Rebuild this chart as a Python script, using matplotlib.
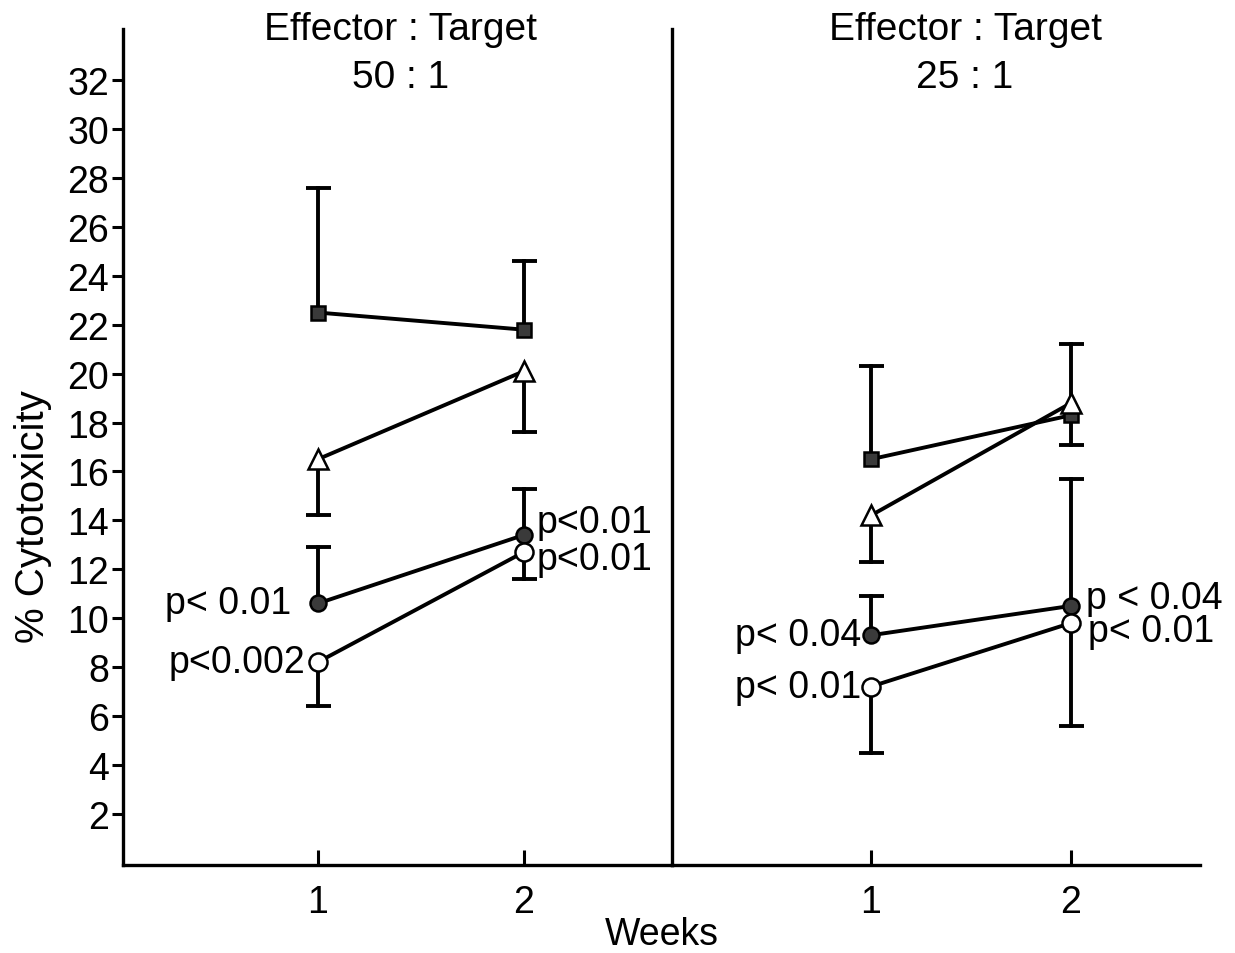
import matplotlib
matplotlib.use("Agg")
from matplotlib import pyplot as plt
import numpy as np

plt.rcParams['font.family'] = ['Liberation Sans', 'DejaVu Sans']

# weeks
weeks = [1, 2]

# 50:1 panel (mean, error-bar end)
sq_50 = [22.5, 21.8]
sq_50_end = [27.6, 24.6]
tri_50 = [16.5, 20.1]
tri_50_end = [14.2, 17.6]
fc_50 = [10.6, 13.4]
fc_50_end = [12.9, 15.3]
oc_50 = [8.2, 12.7]
oc_50_end = [6.4, 11.6]

# 25:1 panel
sq_25 = [16.5, 18.3]
sq_25_end = [20.3, 21.2]
tri_25 = [14.2, 18.8]
tri_25_end = [12.3, 17.1]
fc_25 = [9.3, 10.5]
fc_25_end = [10.9, 15.7]
oc_25 = [7.2, 9.8]
oc_25_end = [4.5, 5.6]

p_50_fc = ["p< 0.01", "p<0.01"]
p_50_oc = ["p<0.002", "p<0.01"]
p_25_fc = ["p< 0.04", "p < 0.04"]
p_25_oc = ["p< 0.01", "p< 0.01"]

title_top = "Effector : Target"
ratios = ["50 : 1", "25 : 1"]

FS = 27
LW = 2.8

fig = plt.figure(figsize=(12.35, 9.54), dpi=100)
ax1 = fig.add_axes([123/1235, 1-866/954, (672-123)/1235, (866-30)/954])
ax2 = fig.add_axes([672/1235, 1-866/954, (1200-672)/1235, (866-30)/954])
ax2.patch.set_visible(False)


def draw_series(ax, y, end, marker, face, ms):
    for xi, yi, ei in zip(weeks, y, end):
        ax.plot([xi, xi], [yi, ei], color='black', lw=LW, zorder=2)
        ax.plot(xi, ei, marker='_', ms=18, mew=LW, color='black', zorder=2)
    ax.plot(weeks, y, color='black', lw=LW, zorder=2)
    ax.plot(weeks, y, linestyle='none', marker=marker, ms=ms, mfc=face,
            mec='black', mew=1.8, zorder=3)


panels = [
    (ax1, [(sq_50, sq_50_end), (tri_50, tri_50_end), (fc_50, fc_50_end), (oc_50, oc_50_end)]),
    (ax2, [(sq_25, sq_25_end), (tri_25, tri_25_end), (fc_25, fc_25_end), (oc_25, oc_25_end)]),
]
styles = [('s', '#3a3a3a', 10.5), ('^', 'white', 14), ('o', '#3a3a3a', 11.5), ('o', 'white', 13)]

for ax, series in panels:
    for (y, end), (m, f, s) in zip(series, styles):
        draw_series(ax, y, end, m, f, s)

ax1.set_xlim(0.053, 2.72)
ax2.set_xlim(0.005, 2.645)
for ax, r, tx in zip([ax1, ax2], ratios, [0.505, 0.555]):
    ax.set_ylim(-0.1, 34.1)
    ax.set_xticks(weeks)
    ax.set_xticklabels(['1', '2'], fontsize=FS)
    ax.tick_params(axis='x', direction='in', length=11, width=2.2, pad=14)
    ax.spines['top'].set_visible(False)
    for s in ax.spines.values():
        s.set_linewidth(2.4)
    ax.text(tx, 1.0, title_top, transform=ax.transAxes, ha='center', va='center',
            fontsize=28)
    ax.text(tx, 1 - 48/836, r, transform=ax.transAxes, ha='center', va='center',
            fontsize=28)

ax1.set_yticks(np.arange(2, 33, 2))
ax1.set_yticklabels([str(v) for v in range(2, 33, 2)], fontsize=FS)
ax1.tick_params(axis='y', direction='out', length=8, width=2.2, pad=2)

ax2.spines['left'].set_visible(False)
ax2.spines['right'].set_visible(False)
ax2.set_yticks([])

# p-value labels
for ax, fc, oc, pfc, poc, offs in [
    (ax1, fc_50, oc_50, p_50_fc, p_50_oc, [(-19, 0, -9, 0), (9, 9, 9, -5)]),
    (ax2, fc_25, oc_25, p_25_fc, p_25_oc, [(-7, 0, -7, 0), (11, 6, 12, -6)])]:
    for i, xi in enumerate(weeks):
        dxf, dyf, dxo, dyo = offs[i]
        ha = 'right' if dxf < 0 else 'left'
        ax.annotate(pfc[i], (xi, fc[i]), xytext=(dxf, dyf), textcoords='offset points',
                    ha=ha, va='center', fontsize=FS)
        ax.annotate(poc[i], (xi, oc[i]), xytext=(dxo, dyo), textcoords='offset points',
                    ha=ha, va='center', fontsize=FS)

fig.text(33/1235, 1-517/954, '% Cytotoxicity', rotation=90, ha='center', va='center',
         fontsize=29)
fig.text(662/1235, 1-935/954, 'Weeks', ha='center', va='center', fontsize=FS)

fig.savefig('out.png', dpi=100)
